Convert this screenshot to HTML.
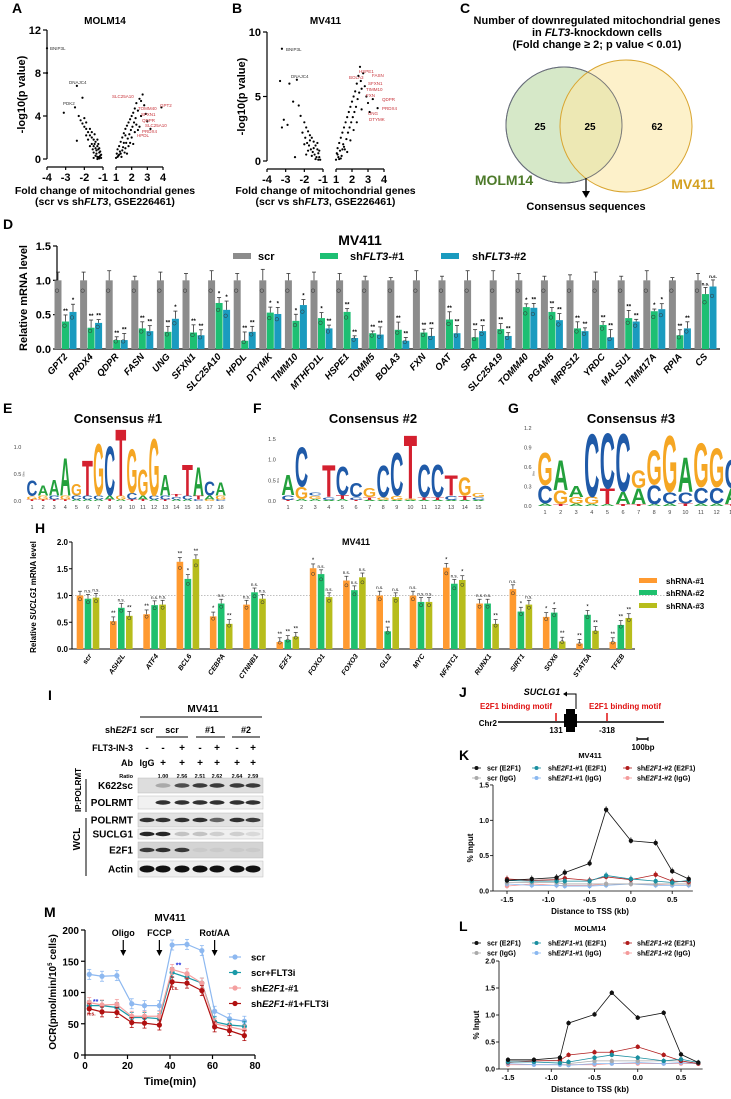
<!DOCTYPE html>
<html><head><meta charset="utf-8">
<style>
html,body{margin:0;padding:0;background:#fff;}
svg{display:block;font-family:"Liberation Sans Narrow","Liberation Sans",sans-serif;font-weight:bold;}
</style></head>
<body>
<svg id="fig" width="731" height="1099" viewBox="0 0 731 1099" xmlns="http://www.w3.org/2000/svg">
<rect x="0" y="0" width="731" height="1099" fill="#fff"/>
</svg>
<script>
// ---------- DATA ----------
const volcA_left=[[-4,10.3],[-4,8],[-2.4,6.8],[-2.1,5.7],[-2.5,4.8],[-3.1,4.3],[-2.3,4],[-2.2,3.6],[-2.1,3.3],[-2.0,3.0],[-1.9,2.8],[-1.8,2.5],[-1.7,2.2],[-1.6,2.0],[-1.5,1.8],[-1.4,1.6],[-1.3,1.2],[-1.25,0.9],[-1.2,0.6],[-1.15,0.3],[-1.1,0.1],[-2.0,3.8],[-1.9,3.4],[-1.7,2.8],[-1.6,2.5],[-1.5,1.2],[-1.4,1.0],[-1.35,0.5],[-1.3,0.2],[-1.2,0.2],[-1.5,0.6],[-1.6,1.4],[-1.8,1.8],[-2.4,1.7],[-1.45,2.3],[-1.3,1.8],[-1.25,1.4],[-1.2,1.0],[-1.15,0.7],[-1.1,0.4],[-1.4,0.3],[-1.5,0.1],[-1.3,0.0],[-1.7,1.2],[-1.9,2.2],[-1.2,0.05],[-1.25,0.15],[-1.35,0.8],[-1.45,1.4],[-1.55,0.9]];
const volcA_right=[[1.0,0.1],[1.05,0.5],[1.1,0.9],[1.15,0.3],[1.2,1.2],[1.25,0.7],[1.3,1.6],[1.35,0.2],[1.4,2.0],[1.45,1.1],[1.5,2.4],[1.55,0.6],[1.6,2.8],[1.65,1.5],[1.7,3.1],[1.75,1.9],[1.8,3.4],[1.85,2.3],[1.9,3.7],[1.95,2.7],[2.0,4.0],[2.05,3.0],[2.1,4.3],[2.15,3.4],[2.2,4.7],[2.25,3.8],[2.3,5.2],[2.4,4.5],[2.5,5.6],[2.6,4.0],[2.7,6.0],[2.8,5.0],[2.9,4.2],[3.0,3.5],[2.5,3.0],[2.2,2.5],[1.9,1.5],[1.6,1.0],[1.3,0.5],[2.0,2.0],[1.8,1.2],[2.4,2.7],[3.2,2.8],[3.9,4.8],[1.1,0.2],[1.2,0.4],[1.4,0.8],[1.7,0.5],[2.1,1.4],[2.6,5.4],[1.5,1.5],[1.6,2.2],[2.3,3.2]];
const volcB_left=[[-3.2,8.7],[-3.3,6.2],[-2.8,6.0],[-2.4,6.3],[-2.6,4.6],[-2.3,4.3],[-3.1,3.2],[-2.9,2.8],[-3.2,2.6],[-2.5,0.3],[-2.2,3.5],[-2.0,3.0],[-1.9,2.6],[-1.8,2.3],[-1.7,2.0],[-1.6,1.8],[-1.5,1.5],[-1.4,1.2],[-1.3,0.9],[-1.25,0.6],[-1.2,0.3],[-1.15,0.1],[-2.1,2.2],[-1.95,1.8],[-1.85,1.4],[-1.75,1.2],[-1.65,0.9],[-1.55,0.7],[-1.45,0.5],[-1.35,0.3],[-1.25,0.1],[-1.5,1.0],[-1.6,0.4],[-1.7,1.6],[-1.8,0.8],[-2.0,1.3],[-1.3,1.4],[-1.2,0.8],[-1.4,0.15],[-1.9,0.5]];
const volcB_right=[[1.0,0.1],[1.05,0.6],[1.1,1.0],[1.15,0.3],[1.2,1.4],[1.25,0.8],[1.3,1.8],[1.35,0.4],[1.4,2.2],[1.45,1.3],[1.5,2.6],[1.55,0.9],[1.6,3.0],[1.65,1.7],[1.7,3.4],[1.75,2.2],[1.8,3.8],[1.85,2.6],[1.9,4.2],[1.95,3.0],[2.0,4.6],[2.05,3.4],[2.1,5.0],[2.15,3.8],[2.2,5.4],[2.25,4.2],[2.3,6.0],[2.35,4.8],[2.4,6.6],[2.45,5.3],[2.5,7.3],[2.55,6.2],[2.6,5.6],[2.7,6.8],[2.8,5.8],[2.9,5.0],[3.0,4.5],[3.1,3.8],[3.3,4.8],[3.6,4.1],[1.3,0.2],[1.5,1.1],[1.7,0.7],[1.9,1.6],[2.1,2.4],[2.3,3.0],[2.6,4.0],[1.1,0.5],[1.2,0.15],[1.4,0.9]];

const genesD=["GPT2","PRDX4","QDPR","FASN","UNG","SFXN1","SLC25A10","HPDL","DTYMK","TIMM10","MTHFD1L","HSPE1","TOMM5","BOLA3","FXN","OAT","SPR","SLC25A19","TOMM40","PGAM5","MRPS12","YRDC","MALSU1","TIMM17A","RPIA","CS"];
const scrD=[1,1,1,1,1,1,1,1,1,1,1,1,1,1,1,1,1,1,1,1,1,1,1,1,1,1];
const sh1D=[.40,.31,.13,.30,.25,.24,.67,.12,.53,.41,.45,.54,.23,.28,.24,.43,.17,.29,.61,.54,.30,.35,.45,.55,.20,.80];
const sh2D=[.54,.38,.13,.26,.44,.20,.57,.25,.51,.64,.30,.16,.21,.12,.19,.23,.26,.19,.60,.42,.26,.17,.40,.58,.30,.91];
const errD=[.12,.12,.14,.06,.12,.10,.14,.10,.16,.10,.12,.10,.06,.04,.14,.06,.14,.14,.10,.06,.08,.12,.06,.14,.04,.10];
const sigD1=["**","**","**","**","**","**","*","**","*","*","*","**","**","**","**","**","**","**","*","**","**","**","**","*","**","n.s."];
const sigD2=["*","**","**","**","*","**","*","**","*","*","**","**","**","**","**","**","**","**","**","**","**","**","**","*","**","n.s."];

const logoE=[[["T",.03],["G",.06],["C",.3]],[["T",.03],["G",.07],["A",.2]],[["T",.03],["C",.07],["A",.3]],[["T",.03],["G",.07],["A",.72]],[["A",.03],["C",.07],["G",.22]],[["A",.03],["C",.07],["T",.67]],[["A",.03],["C",.07],["G",1.0]],[["T",.03],["A",.07],["C",.95]],[["A",.03],["G",.07],["T",1.28]],[["T",.03],["C",.12],["G",.85]],[["T",.03],["A",.07],["G",.5]],[["A",.03],["C",.07],["G",1.1]],[["T",.03],["C",.07],["A",.4]],[["A",.03],["C",.05],["T",.05]],[["A",.03],["C",.07],["T",.6]],[["C",.03],["T",.07],["A",.55]],[["G",.03],["A",.07],["C",.27]],[["C",.03],["G",.07],["A",.25]]];
const logoF=[[["T",.03],["C",.12],["A",.5]],[["A",.05],["G",.3],["C",1.0]],[["A",.05],["G",.08],["C",.08]],[["A",.03],["C",.07],["T",.8]],[["A",.05],["T",.1],["C",.72]],[["T",.03],["C",.07],["C",.35]],[["A",.03],["T",.07],["G",.22]],[["A",.03],["G",.07],["C",.8]],[["A",.03],["G",.1],["C",1.08]],[["A",.03],["G",.03],["T",1.6]],[["A",.03],["T",.07],["C",.82]],[["A",.03],["T",.07],["C",.82]],[["A",.03],["C",.1],["T",.5]],[["A",.03],["T",.1],["G",.45]],[["A",.03],["C",.07],["G",.1]]];
const logoG=[[["A",.04],["C",.28],["G",.52]],[["T",.03],["G",.22],["A",.48]],[["A",.04],["G",.1],["A",.18]],[["A",.03],["G",.12],["C",1.0]],[["A",.03],["T",.25],["C",.88]],[["T",.03],["A",.2],["C",.92]],[["T",.03],["A",.25],["G",.28]],[["A",.03],["C",.3],["G",.55]],[["A",.04],["C",.18],["G",.9]],[["T",.04],["C",.18],["A",.55]],[["A",.04],["C",.25],["G",.7]],[["A",.04],["C",.25],["G",.62]],[["T",.03],["A",.25],["C",.45]]];

const genesH=["scr","ASH2L","ATF4","BCL6","CEBPA","CTNNB1","E2F1","FOXO1","FOXO3","GLI2","MYC","NFATC1","RUNX1","SIRT1","SOX6","STAT5A","TFEB"];
const h1=[1.0,.52,.65,1.63,.61,.83,.13,1.51,1.28,1.0,1.0,1.52,.85,1.12,.60,.10,.13];
const h2=[.94,.77,.82,1.31,.85,1.06,.17,1.40,1.10,.33,.88,1.22,.85,.70,.68,.64,.45];
const h3=[.96,.62,.83,1.68,.47,.94,.23,.97,1.34,.97,.88,1.29,.47,.83,.14,.34,.58];
const sigH1=["","**","**","**","*","n.s.","**","*","n.s.","n.s.","n.s.","*","n.s.","n.s.","*","**","**"];
const sigH2=["n.s.","n.s.","n.s.","*","n.s.","n.s.","**","n.s.","n.s.","**","n.s.","n.s.","n.s.","*","*","*","**"];
const sigH3=["n.s.","**","n.s.","**","**","n.s.","**","n.s.","n.s.","n.s.","n.s.","*","**","n.s.","**","**","**"];

const tssX=[-1.5,-1.2,-0.9,-0.8,-0.5,-0.3,0,0.3,0.5,0.7];
const kScrE=[.15,.17,.19,.26,.39,1.15,.71,.68,.28,.17];
const kSh1E=[.15,.14,.14,.14,.14,.22,.17,.14,.12,.15];
const kSh2E=[.17,.15,.16,.18,.15,.20,.16,.23,.14,.13];
const kScrG=[.12,.12,.12,.10,.10,.10,.10,.10,.10,.10];
const kSh1G=[.10,.08,.08,.07,.07,.08,.10,.08,.08,.08];
const kSh2G=[.07,.10,.08,.08,.08,.10,.10,.09,.10,.10];
const lScrE=[.17,.17,.21,.85,1.01,1.41,.95,1.04,.27,.12];
const lSh1E=[.13,.13,.11,.13,.21,.26,.21,.15,.18,.12];
const lSh2E=[.12,.15,.16,.26,.31,.31,.41,.26,.15,.10];
const lScrG=[.15,.15,.15,.10,.15,.15,.15,.15,.15,.10];
const lSh1G=[.10,.08,.08,.07,.10,.10,.12,.10,.12,.10];
const lSh2G=[.08,.08,.08,.08,.08,.10,.10,.10,.10,.10];

const timeM=[2,8,15,22,28,35,41,48,55,61,68,75];
const mScr=[129,126,127,82,79,79,176,177,167,70,58,54];
const mScrF=[79,79,76,60,60,58,132,124,115,53,48,46];
const mSh=[84,80,81,62,62,62,137,130,115,50,45,40];
const mShF=[74,69,68,52,51,48,117,115,103,45,39,31];

const ratioI=["","1.00","2.56","2.51","2.62","2.64","2.59"];

// ---------- HELPERS ----------
const NS='http://www.w3.org/2000/svg';
const svg=document.getElementById('fig');
function mk(tag,a,p){const e=document.createElementNS(NS,tag);for(const k in a)e.setAttribute(k,a[k]);(p||svg).appendChild(e);return e;}
function tx(x,y,s,a,p){const e=mk('text',Object.assign({x:x,y:y,'font-size':9},a||{}),p);e.textContent=s;return e;}
function grp(name){const g=mk('g',{});return g;}
const LC={A:'#23a03c',C:'#1f5aa8',G:'#f5a623',T:'#d4202f'};

// panel letters
[["A",12,13],["B",232,13],["C",460,13],["D",3,229],["E",3,413],["F",253,413],["G",508,413],["H",35,533],["I",48,700],["J",459,697],["K",459,760],["L",459,931],["M",44,917]].forEach(function(p){
  const t=tx(p[1],p[2],p[0],{'font-size':14,'font-family':'Liberation Sans'});
  
  
});

// ---------- VOLCANO ----------
function volcano(name,ox,oy0,oyTop,ymax,yticks,xl,xr,left,right,title,labels){
  const g=grp(name);
  const xs=function(v){return v<0? ox+(v+4)*(xl-ox)/3 : xr[0]+(v-1)*(xr[1]-xr[0])/3;};
  const ys=function(v){return oy0-v*(oy0-oyTop)/ymax;};
  mk('line',{x1:ox,y1:oyTop,x2:ox,y2:oy0,stroke:'#000','stroke-width':1.2},g);
  yticks.forEach(function(v){
    mk('line',{x1:ox-4,y1:ys(v),x2:ox,y2:ys(v),stroke:'#000','stroke-width':1.2},g);
    const t=tx(ox-6,ys(v)+4,String(v),{'text-anchor':'end','font-size':11},g);
    
    
  });
  const axY=oy0+8;
  mk('line',{x1:ox,y1:axY,x2:xl,y2:axY,stroke:'#000','stroke-width':1.2},g);
  mk('line',{x1:xr[0],y1:axY,x2:xr[1],y2:axY,stroke:'#000','stroke-width':1.2},g);
  [-4,-3,-2,-1,1,2,3,4].forEach(function(v){
    mk('line',{x1:xs(v),y1:axY,x2:xs(v),y2:axY+3,stroke:'#000','stroke-width':1.2},g);
    const t=tx(xs(v),axY+14,String(v),{'text-anchor':'middle','font-size':11},g);
    
    
  });
  left.concat(right).forEach(function(p){
    const c=mk('circle',{cx:xs(p[0]),cy:ys(p[1]),r:1.1,fill:'#000'},g);
    
    
  });
  labels.forEach(function(l){
    const t=tx(l[1],l[2],l[0],{'font-size':4.5,'font-weight':'normal',fill:l[3]},g);
    
    
  });
  const tt=tx((ox+xr[1])/2,24,title,{'text-anchor':'middle','font-size':10},g);
  
  
  const yl=tx(0,0,'-log10(p value)',{'text-anchor':'middle','font-size':11,transform:'translate('+(ox-22)+','+((oy0+oyTop)/2)+') rotate(-90)'},g);
  
  
  const x1=tx((ox+xr[1])/2,194,'Fold change of mitochondrial genes',{'text-anchor':'middle','font-size':10.5},g);
  
  
  const x2=tx((ox+xr[1])/2,205,'',{'text-anchor':'middle','font-size':10.5},g);
  x2.innerHTML='(scr vs sh<tspan font-style="italic">FLT3</tspan>, GSE226461)';
  
  
}
const R='#c8333a',K='#333';
volcano('volcano-molm14',47,159,30,12,[0,4,8,12],103,[116,163],volcA_left,volcA_right,'MOLM14',
 [["BNIP3L",50,50,K],["DNAJC4",69,84,K],["PDK2",63,105,K],["SLC25A10",112,98,R],["TOMM40",138,110,R],["GPT2",160,107,R],["SFXN1",141,116,R],["QDPR",142,122,R],["SLC25A10",145,127,R],["PRDX4",142,133,R],["HPDL",137,137,R]]);
volcano('volcano-mv411',267,161,32,10,[0,5,10],323,[336,384],volcB_left,volcB_right,'MV411',
 [["BNIP3L",286,51,K],["DNAJC4",291,78,K],["HSPE1",359,73,R],["FASN",372,77,R],["BOLA3",349,79,R],["SFXN1",368,85,R],["TIMM10",366,91,R],["FXN",366,97,R],["QDPR",382,101,R],["PRDX4",382,110,R],["UNG",368,115,R],["DTYMK",369,121,R]]);

// ---------- VENN ----------
(function(){
  const g=grp('venn-diagram');
  ["Number of downregulated mitochondrial genes","","(Fold change \u2265 2; p value < 0.01)"].forEach(function(s,i){
    const t=tx(597,24+i*12,s,{'text-anchor':'middle','font-size':11},g);
    if(i===1){t.innerHTML='in <tspan font-style="italic">FLT3</tspan>-knockdown cells';}
    
    
  });
  const c1=mk('circle',{cx:564,cy:125,r:58,fill:'#d6e8c8',stroke:'#23386e','stroke-width':1},g);
  
  
  const c2=mk('circle',{cx:626,cy:126,r:66,fill:'#fbe7a6','fill-opacity':0.6,stroke:'#d9a530','stroke-width':1},g);
  
  
  mk('circle',{cx:564,cy:125,r:58,fill:'none',stroke:'#777','stroke-width':0.8},g);
  [["25",540,130],["25",590,130],["62",657,130]].forEach(function(p){
    const t=tx(p[1],p[2],p[0],{'text-anchor':'middle','font-size':10},g);
    
    
  });
  const m=tx(504,185,'MOLM14',{'text-anchor':'middle','font-size':14,fill:'#4d7a2a'},g);
  
  
  const v=tx(693,189,'MV411',{'text-anchor':'middle','font-size':14,fill:'#d4a020'},g);
  
  
  mk('line',{x1:586,y1:178,x2:586,y2:192,stroke:'#000','stroke-width':1.2},g);
  mk('polygon',{points:'582,191 590,191 586,198',fill:'#000'},g);
  const cs=tx(586,210,'Consensus sequences',{'text-anchor':'middle','font-size':11},g);
  
  
})();

// ---------- D BAR CHART ----------
(function(){
  const g=grp('bar-chart-d');
  const y0=349, per=68.67, ax=57;
  const yD=function(v){return y0-v*per;};
  const gx=function(i){return 58+i*25.6;};
  mk('line',{x1:ax,y1:246,x2:ax,y2:y0,stroke:'#000','stroke-width':1.2},g);
  mk('line',{x1:ax,y1:y0,x2:720,y2:y0,stroke:'#000','stroke-width':1.2},g);
  [0,0.5,1.0,1.5].forEach(function(v){
    mk('line',{x1:ax-4,y1:yD(v),x2:ax,y2:yD(v),stroke:'#000','stroke-width':1.2},g);
    const t=tx(ax-6,yD(v)+4,v.toFixed(1),{'text-anchor':'end','font-size':11},g);
    
    
  });
  const yl=tx(0,0,'Relative mRNA level',{'text-anchor':'middle','font-size':11,transform:'translate(27,298) rotate(-90)'},g);
  
  
  const tt=tx(360,245,'MV411',{'text-anchor':'middle','font-size':14},g);
  
  
  const series=[[scrD,'#8c8c8c',0,null],[sh1D,'#1dbf73',7.5,sigD1],[sh2D,'#1a9bbf',15,sigD2]];
  genesD.forEach(function(gn,i){
    series.forEach(function(s,k){
      const v=s[0][i], cx=gx(i)+s[2];
      const b=mk('rect',{x:cx-3.5,y:yD(v),width:7,height:y0-yD(v),fill:s[1]},g);
      
      
      const e=errD[(i+k)%errD.length]*(k===0?1:0.8);
      mk('line',{x1:cx,y1:yD(v),x2:cx,y2:yD(v+e),stroke:'#333','stroke-width':0.8},g);
      mk('line',{x1:cx-2,y1:yD(v+e),x2:cx+2,y2:yD(v+e),stroke:'#333','stroke-width':0.8},g);
      mk('circle',{cx:cx-1,cy:yD(v*0.85),r:1.8,fill:'none',stroke:'#333','stroke-width':0.5},g);
      if(s[3]){
        const st=tx(cx,yD(v+e)-2,s[3][i],{'text-anchor':'middle','font-size':s[3][i]==='n.s.'?4.5:6},g);
        
        
      }
    });
    const lx=gx(i)+10, ly=357;
    const t=tx(lx,ly,gn,{'text-anchor':'end','font-size':9.5,'font-style':'italic',transform:'rotate(-48 '+lx+' '+ly+')'},g);
    
    
  });
  [['scr','#8c8c8c',233,258],['sh','#1dbf73',320,350],['sh','#1a9bbf',441,472]].forEach(function(l,i){
    const r=mk('rect',{x:l[2],y:253,width:18,height:6,fill:l[1]},g);
    
    
    const t=tx(l[3],260,'',{'font-size':11},g);
    if(i===0){t.textContent='scr';}else{t.innerHTML='sh<tspan font-style="italic">FLT3</tspan>-#'+i;}
    
    
  });
})();

// ---------- LOGOS ----------
function logo(name,data,x0,dx,y0,perBit,ticks,title,tx0){
  const g=grp(name);
  data.forEach(function(stack,p){
    let base=y0;
    const cx=x0+p*dx, w=dx*0.98;
    stack.forEach(function(s){
      const h=s[1]*perBit;
      if(h<0.3){return;}
      const t=tx(0,0,s[0],{'font-size':10,'font-family':'Liberation Sans','font-weight':'bold',fill:LC[s[0]],textLength:w,lengthAdjust:'spacingAndGlyphs',transform:'translate('+(cx-w/2)+','+base+') scale(1,'+(h/7.25)+')'},g);
      
      
      base-=h;
    });
    const n=tx(cx,y0+8,String(p+1),{'text-anchor':'middle','font-size':5.5,'font-weight':'normal',fill:'#444'},g);
    
    
  });
  ticks.forEach(function(v){
    const t=tx(x0-dx*0.6-4,y0-v*perBit+2,v.toFixed(1),{'text-anchor':'end','font-size':5.5,'font-weight':'normal',fill:'#444'},g);
    
    
  });
  const b=tx(0,0,'Bits',{'font-size':3,'font-weight':'normal',fill:'#555','text-anchor':'middle',transform:'translate('+(x0-dx*0.6-1)+','+(y0-0.5*perBit)+') rotate(-90)'},g);
  
  
  const tt=tx(tx0,423,title,{'text-anchor':'middle','font-size':13},g);
  
  
}
logo('logo-consensus-1',logoE,32,11.1,501,54,[0,0.5,1.0],'Consensus #1',118);
logo('logo-consensus-2',logoF,288,13.6,501,41.3,[0,0.5,1.0,1.5],'Consensus #2',373);
logo('logo-consensus-3',logoG,545,15.6,506,65,[0,0.3,0.6,0.9,1.2],'Consensus #3',631);

// ---------- H BAR CHART ----------
(function(){
  const g=grp('bar-chart-h');
  const y0=649, per=53.5, ax=72;
  const yH=function(v){return y0-v*per;};
  const gx=function(i){return 88+i*33.3;};
  mk('line',{x1:ax,y1:y0-2*per,x2:ax,y2:y0,stroke:'#000','stroke-width':1},g);
  mk('line',{x1:ax,y1:y0,x2:635,y2:y0,stroke:'#000','stroke-width':1},g);
  mk('line',{x1:ax,y1:yH(1),x2:700,y2:yH(1),stroke:'#aaa','stroke-width':0.7,'stroke-dasharray':'1.5,1.5'},g);
  [0,0.5,1.0,1.5,2.0].forEach(function(v){
    mk('line',{x1:ax-3,y1:yH(v),x2:ax,y2:yH(v),stroke:'#000','stroke-width':1},g);
    const t=tx(ax-4,yH(v)+3,v.toFixed(1),{'text-anchor':'end','font-size':8},g);
    
    
  });
  const yl=tx(0,0,'',{'text-anchor':'middle','font-size':8,transform:'translate(36,597) rotate(-90)'},g);
  yl.innerHTML='Relative <tspan font-style="italic">SUCLG1</tspan> mRNA level';
  
  
  const tt=tx(356,545,'MV411',{'text-anchor':'middle','font-size':9},g);
  
  
  const series=[[h1,'#ff9a30',-8,sigH1],[h2,'#1fc06e',0,sigH2],[h3,'#b7bd1c',8,sigH3]];
  genesH.forEach(function(gn,i){
    series.forEach(function(s,k){
      const v=s[0][i], cx=gx(i)+s[2];
      const b=mk('rect',{x:cx-3.3,y:yH(v),width:6.6,height:y0-yH(v),fill:s[1]},g);
      
      
      const e=0.08;
      mk('line',{x1:cx,y1:yH(v),x2:cx,y2:yH(v+e),stroke:'#333','stroke-width':0.7},g);
      mk('line',{x1:cx-2,y1:yH(v+e),x2:cx+2,y2:yH(v+e),stroke:'#333','stroke-width':0.7},g);
      mk('circle',{cx:cx,cy:yH(v*0.93),r:1.6,fill:'none',stroke:'#333','stroke-width':0.5},g);
      if(s[3][i]){
        const st=tx(cx,yH(v+e)-2,s[3][i],{'text-anchor':'middle','font-size':s[3][i]==='n.s.'?4.5:6,'font-weight':'normal'},g);
        
        
      }
    });
    const lx=gx(i)+4, ly=656;
    const t=tx(lx,ly,gn,{'text-anchor':'end','font-size':7,'font-style':'italic',transform:'rotate(-55 '+lx+' '+ly+')'},g);
    
    
  });
  [['shRNA-#1','#ff9a30',582],['shRNA-#2','#1fc06e',594],['shRNA-#3','#b7bd1c',607]].forEach(function(l){
    const r=mk('rect',{x:639,y:l[2]-4,width:18,height:5,fill:l[1]},g);
    
    
    const t=tx(666,l[2]+2,l[0],{'font-size':8},g);
    
    
  });
})();

// ---------- I WESTERN BLOT ----------
(function(){
  const g=grp('western-blot');
  const lanes=[147,163,182,200,217,237,253];
  const t0=tx(203,712,'MV411',{'text-anchor':'middle','font-size':10},g);
  
  
  mk('line',{x1:140,y1:717,x2:262,y2:717,stroke:'#000','stroke-width':1},g);
  const sh=tx(137,733,'',{'text-anchor':'end','font-size':9},g);
  sh.innerHTML='sh<tspan font-style="italic">E2F1</tspan>';
  
  
  [["scr",147],["scr",172],["#1",210],["#2",246]].forEach(function(p){
    const t=tx(p[1],733,p[0],{'text-anchor':'middle','font-size':9},g);
    
    
  });
  [[156,188],[196,225],[232,260]].forEach(function(p){mk('line',{x1:p[0],y1:737,x2:p[1],y2:737,stroke:'#000','stroke-width':1},g);});
  const f=tx(133,751,'FLT3-IN-3',{'text-anchor':'end','font-size':9},g);
  
  
  ['-','-','+','-','+','-','+'].forEach(function(s,i){
    const t=tx(lanes[i],751,s,{'text-anchor':'middle','font-size':10},g);
    
    
  });
  const ab=tx(133,766,'Ab',{'text-anchor':'end','font-size':9},g);
  
  
  ['IgG','+','+','+','+','+','+'].forEach(function(s,i){
    const t=tx(lanes[i],766,s,{'text-anchor':'middle','font-size':s==='IgG'?9:10},g);
    
    
  });
  const ra=tx(133,778,'Ratio',{'text-anchor':'end','font-size':5.5},g);
  
  
  ratioI.forEach(function(s,i){
    const t=tx(lanes[i],778,s,{'text-anchor':'middle','font-size':5.5},g);
    
    
  });
  const rows=[["K622sc",778,793,'#ddd',[0,.25,.7,.8,.8,.8,.8]],["POLRMT",796,809,'#f1f1f1',[0,.85,.85,.85,.85,.85,.85]],["POLRMT",813,827,'#e2e2e2',[.85,.85,.85,.85,.6,.85,.8]],["SUCLG1",829,839,'#f0f0f0',[.9,.9,.2,.2,.15,.15,.1]],["E2F1",842,858,'#d4d4d4',[.8,.85,.8,.05,.05,.05,.05]],["Actin",861,877,'#eee',[1,1,1,1,1,1,1]]];
  rows.forEach(function(r){
    const bx=mk('rect',{x:138,y:r[1],width:125,height:r[2]-r[1],fill:r[3],stroke:'#bbb','stroke-width':0.5},g);
    
    
    const cy=(r[1]+r[2])/2;
    r[4].forEach(function(a,i){
      if(a<=0)return;
      const e=mk('ellipse',{cx:lanes[i],cy:cy,rx:7.5,ry:r[0]==='Actin'?3.5:2.2,fill:'#111','fill-opacity':a},g);
      
      
    });
    const t=tx(133,cy+3.5,r[0],{'text-anchor':'end','font-size':10},g);
    
    
  });
  mk('line',{x1:86,y1:779,x2:86,y2:812,stroke:'#000','stroke-width':1},g);
  mk('line',{x1:86,y1:818,x2:86,y2:876,stroke:'#000','stroke-width':1},g);
  const ip=tx(0,0,'IP:POLRMT',{'text-anchor':'middle','font-size':8,transform:'translate(81,790) rotate(-90)'},g);
  
  
  const w=tx(0,0,'WCL',{'text-anchor':'middle','font-size':10,transform:'translate(80,839) rotate(-90)'},g);
  
  
})();

// ---------- J GENE DIAGRAM ----------
(function(){
  const g=grp('gene-diagram');
  const s=tx(542,695,'SUCLG1',{'text-anchor':'middle','font-size':9,'font-style':'italic'},g);
  
  
  mk('polyline',{points:'576,709 576,694 566,694',fill:'none',stroke:'#000','stroke-width':1},g);
  mk('polygon',{points:'563,694 567,691.5 567,696.5',fill:'#000'},g);
  const c=tx(497,726,'Chr2',{'text-anchor':'end','font-size':8},g);
  
  
  mk('line',{x1:498,y1:722,x2:664,y2:722,stroke:'#000','stroke-width':1.5},g);
  const b=mk('rect',{x:566,y:709,width:9,height:23,fill:'#000'},g);
  
  
  mk('rect',{x:564,y:714,width:13,height:13,fill:'#000'},g);
  [[556,516,'131'],[607,625,'-318']].forEach(function(m){
    const r=mk('line',{x1:m[0],y1:713,x2:m[0],y2:721,stroke:'#e01010','stroke-width':1.5},g);
    
    
    const t=tx(m[1],709,'E2F1 binding motif',{'text-anchor':'middle','font-size':8,fill:'#e01010'},g);
    
    
    const n=tx(m[0],733,m[2],{'text-anchor':'middle','font-size':8},g);
    
    
  });
  mk('line',{x1:637,y1:739,x2:648,y2:739,stroke:'#000','stroke-width':1.5},g);
  mk('line',{x1:637,y1:737,x2:637,y2:741,stroke:'#000','stroke-width':1},g);
  mk('line',{x1:648,y1:737,x2:648,y2:741,stroke:'#000','stroke-width':1},g);
  const sb=tx(643,750,'100bp',{'text-anchor':'middle','font-size':8},g);
  
  
})();

// ---------- K / L CHIP LINE CHARTS ----------
function chip(name,title,ty,legY,ax,x0,perUnit,y0,perY,ymax,yticks,series){
  const g=grp(name);
  const xs=function(v){return x0+(v+1.5)*perUnit;};
  const ys=function(v){return y0-v*perY;};
  const tt=tx(590,ty,title,{'text-anchor':'middle','font-size':7.5},g);
  
  
  mk('line',{x1:ax,y1:ys(ymax),x2:ax,y2:y0,stroke:'#000','stroke-width':0.8},g);
  mk('line',{x1:ax,y1:y0,x2:xs(0.75),y2:y0,stroke:'#000','stroke-width':0.8},g);
  yticks.forEach(function(v){
    mk('line',{x1:ax-3,y1:ys(v),x2:ax,y2:ys(v),stroke:'#000','stroke-width':0.8},g);
    const t=tx(ax-4,ys(v)+2.5,v.toFixed(1),{'text-anchor':'end','font-size':7},g);
    
    
  });
  [-1.5,-1.0,-0.5,0.0,0.5].forEach(function(v){
    mk('line',{x1:xs(v),y1:y0,x2:xs(v),y2:y0+3,stroke:'#000','stroke-width':0.8},g);
    const t=tx(xs(v),y0+11,v.toFixed(1),{'text-anchor':'middle','font-size':7.5},g);
    
    
  });
  const yl=tx(0,0,'% Input',{'text-anchor':'middle','font-size':8,transform:'translate('+(ax-20)+','+((y0+ys(ymax))/2+10)+') rotate(-90)'},g);
  
  
  const xl=tx(590,y0+23,'Distance to TSS (kb)',{'text-anchor':'middle','font-size':8},g);
  
  
  series.slice().reverse().forEach(function(s){
    const pts=s.vals.map(function(v,i){return xs(tssX[i])+','+ys(v);}).join(' ');
    const pl=mk('polyline',{points:pts,fill:'none',stroke:s.col,'stroke-width':0.8},g);
    
    
    s.vals.forEach(function(v,i){
      mk('line',{x1:xs(tssX[i]),y1:ys(v-0.04),x2:xs(tssX[i]),y2:ys(v+0.05),stroke:s.col,'stroke-width':0.6},g);
      const c=mk('circle',{cx:xs(tssX[i]),cy:ys(v),r:2.2,fill:s.col},g);
      
      
    });
  });
  const cols=[[472,487],[532,548],[623,637]];
  series.forEach(function(s,i){
    const col=cols[i%3], yy=legY+Math.floor(i/3)*10;
    mk('line',{x1:col[0],y1:yy,x2:col[0]+9,y2:yy,stroke:s.col,'stroke-width':0.8},g);
    mk('circle',{cx:col[0]+4.5,cy:yy,r:2,fill:s.col},g);
    const t=tx(col[1],yy+2.5,'',{'font-size':7},g);
    t.innerHTML=s.label;
    
    
  });
}
const E2='sh<tspan font-style="italic">E2F1</tspan>';
chip('chip-mv411','MV411',758,768,493,507,82.6,891,70.7,1.5,[0,0.5,1.0,1.5],[
 {vals:kScrE,col:'#111',label:'scr (E2F1)'},{vals:kSh1E,col:'#1a8fa0',label:E2+'-#1 (E2F1)'},{vals:kSh2E,col:'#b01c1c',label:E2+'-#2 (E2F1)'},
 {vals:kScrG,col:'#aaa',label:'scr (IgG)'},{vals:kSh1G,col:'#8ab8f0',label:E2+'-#1 (IgG)'},{vals:kSh2G,col:'#f49a9a',label:E2+'-#2 (IgG)'}]);
chip('chip-molm14','MOLM14',931,943,499,508,86.5,1069,54,2.0,[0,0.5,1.0,1.5,2.0],[
 {vals:lScrE,col:'#111',label:'scr (E2F1)'},{vals:lSh1E,col:'#1a8fa0',label:E2+'-#1 (E2F1)'},{vals:lSh2E,col:'#b01c1c',label:E2+'-#2 (E2F1)'},
 {vals:lScrG,col:'#aaa',label:'scr (IgG)'},{vals:lSh1G,col:'#8ab8f0',label:E2+'-#1 (IgG)'},{vals:lSh2G,col:'#f49a9a',label:E2+'-#2 (IgG)'}]);

// ---------- M OCR ----------
(function(){
  const g=grp('ocr-chart');
  const x0=85, y0=1055;
  const xs=function(t){return x0+t*2.125;};
  const ys=function(v){return y0-v*0.625;};
  const tt=tx(170,921,'MV411',{'text-anchor':'middle','font-size':10},g);
  
  
  mk('line',{x1:x0,y1:ys(200),x2:x0,y2:y0,stroke:'#000','stroke-width':1.2},g);
  mk('line',{x1:x0,y1:y0,x2:xs(80),y2:y0,stroke:'#000','stroke-width':1.2},g);
  [0,50,100,150,200].forEach(function(v){
    mk('line',{x1:x0-4,y1:ys(v),x2:x0,y2:ys(v),stroke:'#000','stroke-width':1.2},g);
    const t=tx(x0-6,ys(v)+4,String(v),{'text-anchor':'end','font-size':10},g);
    
    
  });
  [0,20,40,60,80].forEach(function(v){
    mk('line',{x1:xs(v),y1:y0,x2:xs(v),y2:y0+4,stroke:'#000','stroke-width':1.2},g);
    const t=tx(xs(v),y0+14,String(v),{'text-anchor':'middle','font-size':10},g);
    
    
  });
  const yl=tx(0,0,'',{'text-anchor':'middle','font-size':10,transform:'translate(56,992) rotate(-90)'},g);
  yl.innerHTML='OCR(pmol/min/10<tspan font-size="6" dy="-4">5</tspan><tspan dy="4"> cells)</tspan>';
  
  
  const xl=tx(170,1085,'Time(min)',{'text-anchor':'middle','font-size':11},g);
  
  
  [["Oligo",18],["FCCP",35],["Rot/AA",61]].forEach(function(a){
    const t=tx(xs(a[1]),936,a[0],{'text-anchor':'middle','font-size':9},g);
    
    
    mk('line',{x1:xs(a[1]),y1:940,x2:xs(a[1]),y2:951,stroke:'#000','stroke-width':1.2},g);
    mk('polygon',{points:(xs(a[1])-3)+',950 '+(xs(a[1])+3)+',950 '+xs(a[1])+',956',fill:'#000'},g);
  });
  const series=[[mScr,'#8db8f0','scr'],[mScrF,'#1a9aa8','scr+FLT3i'],[mSh,'#f4a0a0','sh<tspan font-style="italic">E2F1</tspan>-#1'],[mShF,'#b01010','sh<tspan font-style="italic">E2F1</tspan>-#1+FLT3i']];
  series.forEach(function(s,k){
    const pts=s[0].map(function(v,i){return xs(timeM[i])+','+ys(v);}).join(' ');
    const pl=mk('polyline',{points:pts,fill:'none',stroke:s[1],'stroke-width':1.2},g);
    
    
    s[0].forEach(function(v,i){
      const x=xs(timeM[i]);
      mk('line',{x1:x,y1:ys(v-8),x2:x,y2:ys(v+8),stroke:s[1],'stroke-width':0.8},g);
      mk('line',{x1:x-2,y1:ys(v+8),x2:x+2,y2:ys(v+8),stroke:s[1],'stroke-width':0.8},g);
      mk('line',{x1:x-2,y1:ys(v-8),x2:x+2,y2:ys(v-8),stroke:s[1],'stroke-width':0.8},g);
      const c=mk('circle',{cx:x,cy:ys(v),r:2.6,fill:s[1]},g);
      
      
    });
    const ly=957+k*15.5;
    mk('line',{x1:229,y1:ly,x2:241,y2:ly,stroke:s[1],'stroke-width':1.2},g);
    mk('circle',{cx:235,cy:ly,r:2.6,fill:s[1]},g);
    const t=tx(251,ly+3.5,'',{'font-size':9.5},g);
    t.innerHTML=s[2];
    
    
  });
  [["**",xs(5),ys(82),'#2030e0'],["**",xs(44),ys(140),'#2030e0'],["n.s.",xs(3),ys(63),'#b01010'],["n.s.",xs(42),ys(104),'#b01010']].forEach(function(a){
    const t=tx(a[1],a[2],a[0],{'text-anchor':'middle','font-size':a[0]==='**'?7:5,fill:a[3]},g);
    
    
  });
})();
</script>
</body></html>
